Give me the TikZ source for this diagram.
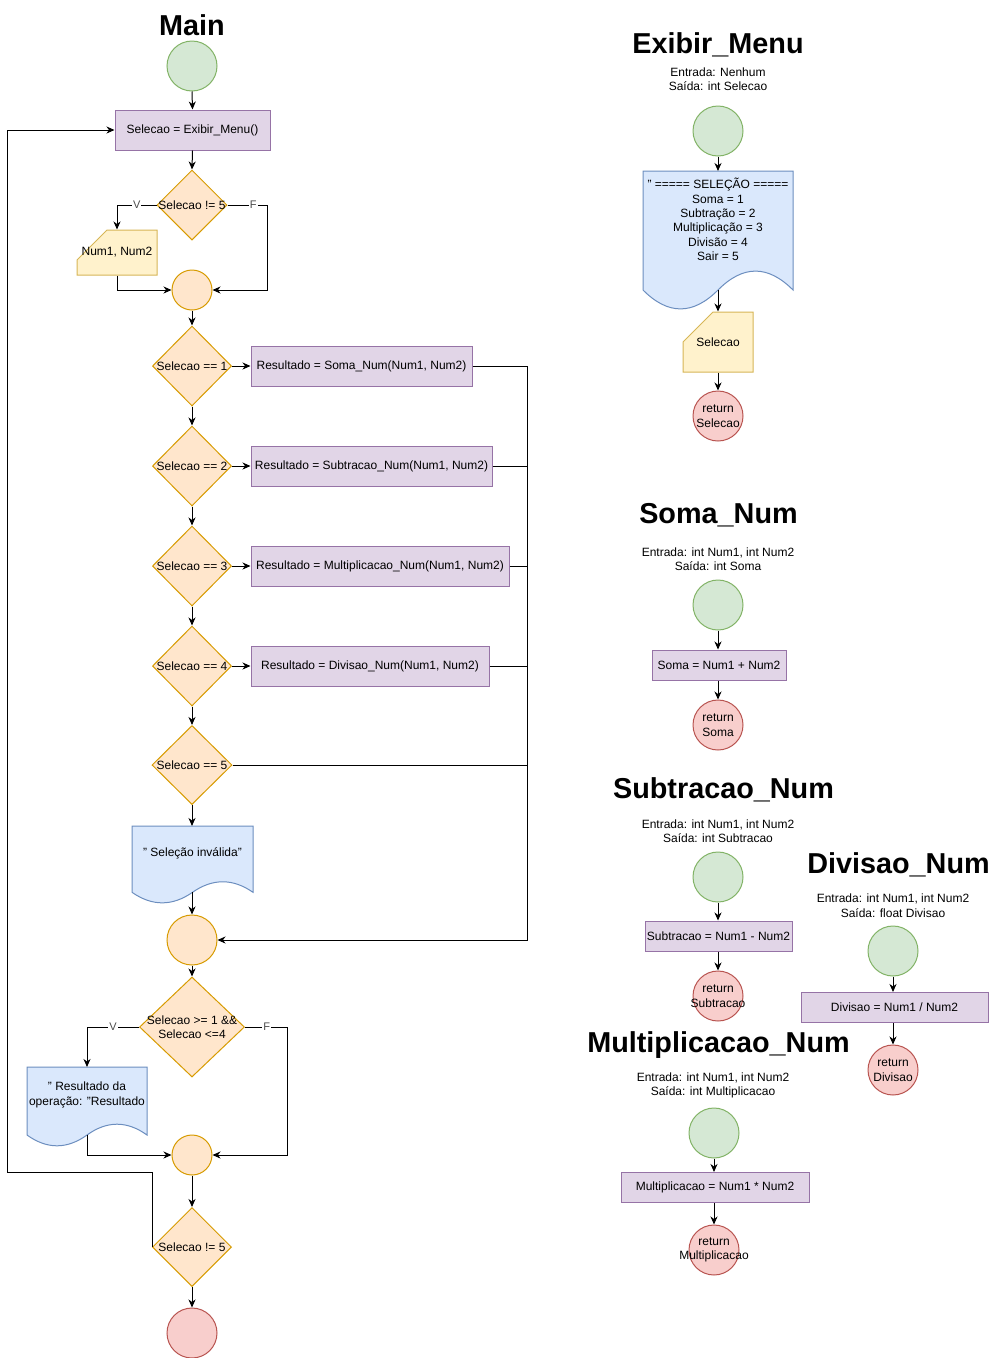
\documentclass[tikz,border=0pt]{standalone}
\usepackage{fontspec}
\setmainfont{Liberation Sans}
\usetikzlibrary{shapes.geometric,arrows.meta,calc}
\definecolor{gfill}{HTML}{D5E8D4}\definecolor{gline}{HTML}{82B366}
\definecolor{pfill}{HTML}{E1D5E7}\definecolor{pline}{HTML}{9673A6}
\definecolor{ofill}{HTML}{FFE6CC}\definecolor{oline}{HTML}{D79B00}
\definecolor{yfill}{HTML}{FFF2CC}\definecolor{yline}{HTML}{D6B656}
\definecolor{bfill}{HTML}{DAE8FC}\definecolor{bline}{HTML}{6C8EBF}
\definecolor{rfill}{HTML}{F8CECC}\definecolor{rline}{HTML}{B85450}
\newcommand{\docshape}[5]{%
 \pgfmathsetmacro{\docxe}{#1+#3}%
 \pgfmathsetmacro{\docxm}{#1+#3/2}%
 \pgfmathsetmacro{\docys}{#2+0.85*#4}%
 \pgfmathsetmacro{\docyu}{\docys-0.18*#4}%
 \pgfmathsetmacro{\docyd}{\docys+0.18*#4}%
 \pgfmathsetmacro{\docca}{\docxe-#3/6}%
 \pgfmathsetmacro{\doccb}{\docxm+#3/6}%
 \pgfmathsetmacro{\doccc}{\docxm-#3/6}%
 \pgfmathsetmacro{\doccd}{#1+#3/6}%
 \filldraw[#5] (#1,#2) -- (\docxe,#2) -- (\docxe,\docys) .. controls (\docca,\docyu) and (\doccb,\docyu) .. (\docxm,\docys) .. controls (\doccc,\docyd) and (\doccd,\docyd) .. (#1,\docys) -- cycle;%
}
\begin{document}
\begin{tikzpicture}[x=1pt,y=-1pt, line width=1pt,
 every node/.style={font=\fontsize{12}{14.4}\selectfont, text=black},
 ttl/.style={font=\fontsize{28.8}{32}\selectfont\bfseries},
 startc/.style={circle, draw=gline, fill=gfill, minimum size=50pt, inner sep=0pt},
 endc/.style={circle, draw=rline, fill=rfill, minimum size=50pt, inner sep=0pt},
 mergec/.style={circle, draw=oline, fill=ofill, inner sep=0pt},
 procbox/.style={rectangle, draw=pline, fill=pfill, inner sep=0pt},
 decbox/.style={diamond, draw=oline, fill=ofill, inner sep=0pt},
 inf/.style={align=center, inner sep=0pt},
 arr/.style={draw=black, -{Stealth[length=8pt,width=7pt,inset=2.5pt]}},
 ln/.style={draw=black},
 elab/.style={fill=white, inner sep=1pt, font=\fontsize{11}{13}\selectfont, text=black!70},
 cardsty/.style={draw=yline, fill=yfill},
 docsty/.style={draw=bline, fill=bfill},
]
\useasboundingbox (0,0) rectangle (999,1358);

% ---------------- Main ----------------
\node[ttl] (tmain) at (192,25) {Main};
\node[startc] (s0) at (192,66) {};
\node[procbox, minimum width=155pt, minimum height=40pt] (p0) at (192.5,130) {Selecao = Exibir\_Menu()};
\node[decbox, minimum width=70pt, minimum height=70pt, label={center:Selecao != 5}] (d0) at (192,205) {};
\filldraw[cardsty] (107,230) -- (157,230) -- (157,275) -- (77,275) -- (77,260) -- cycle;
\node[inf, minimum width=80pt, minimum height=45pt] (c1) at (117,252.5) {Num1, Num2};
\node[mergec, minimum size=40pt] (m1) at (192,290) {};

\node[decbox, minimum width=79pt, minimum height=80pt, label={center:Selecao == 1}] (d1) at (192,366) {};
\node[decbox, minimum width=79pt, minimum height=80pt, label={center:Selecao == 2}] (d2) at (192,466) {};
\node[decbox, minimum width=79pt, minimum height=80pt, label={center:Selecao == 3}] (d3) at (192,566) {};
\node[decbox, minimum width=79pt, minimum height=80pt, label={center:Selecao == 4}] (d4) at (192,666) {};
\node[decbox, minimum width=80pt, minimum height=79pt, label={center:Selecao == 5}] (d5) at (192,765) {};

\node[procbox, minimum width=221pt, minimum height=40pt] (p1) at (361.5,366) {Resultado = Soma\_Num(Num1, Num2)};
\node[procbox, minimum width=241pt, minimum height=40pt] (p2) at (371.5,466) {Resultado = Subtracao\_Num(Num1, Num2)};
\node[procbox, minimum width=258pt, minimum height=40pt] (p3) at (380,566) {Resultado = Multiplicacao\_Num(Num1, Num2)};
\node[procbox, minimum width=238pt, minimum height=40pt] (p4) at (370,666) {Resultado = Divisao\_Num(Num1, Num2)};

\docshape{132}{826}{121}{78}{docsty}
\node[inf] (docA) at (192.5,853) {" Seleção inválida"};
\coordinate (docAt) at (192,826);
\coordinate (docAb) at (192,892.3);

\node[mergec, minimum size=50pt] (m2) at (192,940) {};
\node[decbox, minimum width=105pt, minimum height=100pt, label={[align=center]center:Selecao >= 1 \&\&\\Selecao <=4}] (d6) at (192,1027) {};

\docshape{27}{1067}{120}{80}{docsty}
\node[inf] (docB) at (87,1095) {" Resultado da\\operação: "Resultado};
\coordinate (docBt) at (87,1067);
\coordinate (docBb) at (87,1135);

\node[mergec, minimum size=40pt] (m3) at (192,1155) {};
\node[decbox, minimum width=79pt, minimum height=79pt, label={center:Selecao != 5}] (d7) at (192,1247) {};
\node[endc] (e0) at (192,1333) {};

% connectors main
\draw[arr] (s0.south) -- (p0.north);
\draw[arr] (p0.south) -- (d0.north);
\draw[arr] (d0.west) -| node[elab,pos=0.25]{V} (c1.north);
\draw[arr] (c1.south) |- (m1.west);
\coordinate (f0) at (267,290);
\draw[arr] (d0.east) -- node[elab,pos=0.65]{F} (d0.east -| f0) -- (f0) -- (m1.east);
\draw[arr] (m1.south) -- (d1.north);
\draw[arr] (d1.south) -- (d2.north);
\draw[arr] (d2.south) -- (d3.north);
\draw[arr] (d3.south) -- (d4.north);
\draw[arr] (d4.south) -- (d5.north);
\draw[arr] (d1.east) -- (p1.west);
\draw[arr] (d2.east) -- (p2.west);
\draw[arr] (d3.east) -- (p3.west);
\draw[arr] (d4.east) -- (p4.west);
\coordinate (jx) at (527,940);
\draw[arr] (p1.east) -| (jx) -- (m2.east);
\draw[ln] (p2.east) -- (p2.east -| jx);
\draw[ln] (p3.east) -- (p3.east -| jx);
\draw[ln] (p4.east) -- (p4.east -| jx);
\draw[ln] (d5.east) -- (d5.east -| jx);
\draw[arr] (d5.south) -- (docAt);
\draw[arr] (docAb) -- (m2.north);
\draw[arr] (m2.south) -- (d6.north);
\draw[arr] (d6.west) -| node[elab,pos=0.25]{V} (docBt);
\draw[arr] (docBb) |- (m3.west);
\coordinate (f1) at (287,1155);
\draw[arr] (d6.east) -- node[elab,pos=0.52]{F} (d6.east -| f1) -- (f1) -- (m3.east);
\draw[arr] (m3.south) -- (d7.north);
\coordinate (lp) at (7,1172);
\draw[arr] (d7.west) |- (lp) |- (p0.west);
\draw[arr] (d7.south) -- (e0.north);

% ---------------- Exibir_Menu ----------------
\node[ttl] (tex) at (718,45) {Exibir\_Menu};
\node[inf] (exio) at (718,79.5) {Entrada: Nenhum\\Saída: int Selecao};
\node[startc] (es) at (718,131) {};
\docshape{643}{171}{150}{140}{docsty}
\node[inf] (edoc) at (718,219.5) {" ===== SELEÇÃO =====\\Soma = 1\\Subtração = 2\\Multiplicação = 3\\Divisão = 4\\Sair = 5};
\coordinate (edt) at (718,171);
\coordinate (edb) at (718,290);
\filldraw[cardsty] (713,312) -- (753,312) -- (753,372) -- (683,372) -- (683,342) -- cycle;
\node[inf, minimum width=70pt, minimum height=60pt] (ec) at (718,342) {Selecao};
\node[endc, label={[align=center]center:return\\Selecao}] (er) at (718,416) {};
\draw[arr] (es.south) -- (edt);
\draw[arr] (edb) -- (ec.north);
\draw[arr] (ec.south) -- (er.north);

% ---------------- Soma_Num ----------------
\node[ttl] (tso) at (718.5,515) {Soma\_Num};
\node[inf] (soio) at (718,559.5) {Entrada: int Num1, int Num2\\Saída: int Soma};
\node[startc] (ss) at (718,605) {};
\node[procbox, minimum width=134pt, minimum height=30pt] (sp) at (719,665) {Soma = Num1 + Num2};
\node[endc, label={[align=center]center:return\\Soma}] (sr) at (718,725) {};
\draw[arr] (ss.south) -- (ss.south |- sp.north);
\draw[arr] (sr.north |- sp.south) -- (sr.north);

% ---------------- Subtracao_Num ----------------
\node[ttl] (tsu) at (723.5,790) {Subtracao\_Num};
\node[inf] (suio) at (718,831) {Entrada: int Num1, int Num2\\Saída: int Subtracao};
\node[startc] (us) at (718,877) {};
\node[procbox, minimum width=147pt, minimum height=30pt] (up) at (718.5,936) {Subtracao = Num1 - Num2};
\node[endc, label={[align=center]center:return\\Subtracao}] (ur) at (718,996) {};
\draw[arr] (us.south) -- (us.south |- up.north);
\draw[arr] (ur.north |- up.south) -- (ur.north);

% ---------------- Divisao_Num ----------------
\node[ttl] (tdv) at (898.5,865) {Divisao\_Num};
\node[inf] (dvio) at (893,905.5) {Entrada: int Num1, int Num2\\Saída: float Divisao};
\node[startc] (vs) at (893,951) {};
\node[procbox, minimum width=187pt, minimum height=30pt] (vp) at (894.5,1007.5) {Divisao = Num1 / Num2};
\node[endc, label={[align=center]center:return\\Divisao}] (vr) at (893,1070) {};
\draw[arr] (vs.south) -- (vs.south |- vp.north);
\draw[arr] (vr.north |- vp.south) -- (vr.north);

% ---------------- Multiplicacao_Num ----------------
\node[ttl] (tmu) at (718.5,1045) {Multiplicacao\_Num};
\node[inf] (muio) at (713,1085.5) {Entrada: int Num1, int Num2\\Saída: int Multiplicacao};
\node[startc] (ms) at (714,1133) {};
\node[procbox, minimum width=188pt, minimum height=30pt] (mp) at (715,1187.5) {Multiplicacao = Num1 * Num2};
\node[endc, label={[align=center]center:return\\Multiplicacao}] (mr) at (714,1250) {};
\draw[arr] (ms.south) -- (ms.south |- mp.north);
\draw[arr] (mr.north |- mp.south) -- (mr.north);
\end{tikzpicture}
\end{document}
